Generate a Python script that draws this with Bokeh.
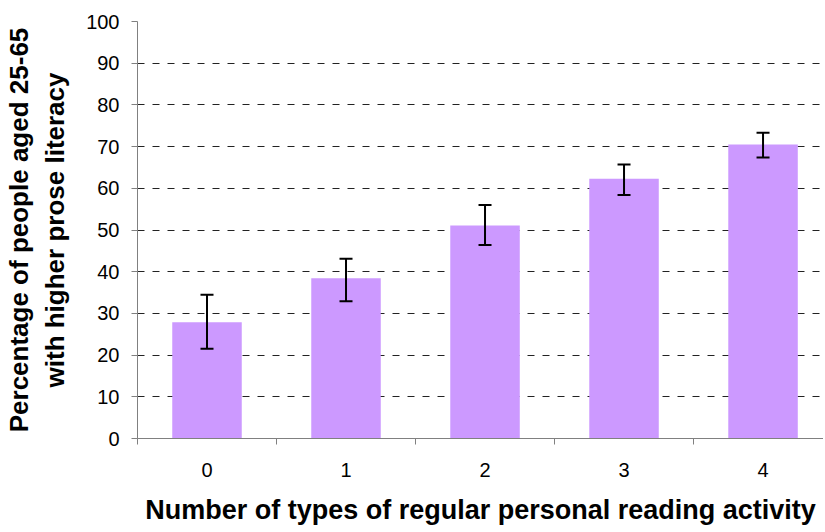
from bokeh.plotting import figure
from bokeh.models import Range1d, FixedTicker, Whisker, TeeHead, ColumnDataSource
from bokeh.embed import file_html
from bokeh.resources import INLINE

# Data
categories = [0, 1, 2, 3, 4]
values = [27.9, 38.4, 51.1, 62.3, 70.5]
err_upper = [34.5, 43.1, 56.0, 65.7, 73.3]
err_lower = [21.5, 32.9, 46.4, 58.4, 67.4]
y_ticks = [0, 10, 20, 30, 40, 50, 60, 70, 80, 90, 100]

FONT = "Liberation Sans"
AXIS_GRAY = "#808080"

source = ColumnDataSource(dict(x=categories, top=values, upper=err_upper, lower=err_lower))

p = figure(width=823, height=532, output_backend="svg", toolbar_location=None,
           x_range=Range1d(-0.5, 4.435), y_range=Range1d(0, 100),
           min_border_left=137, min_border_right=0, min_border_top=21, min_border_bottom=94)
p.outline_line_color = None
p.background_fill_color = "white"

p.vbar(x="x", top="top", width=0.5, source=source, fill_color="#CC99FF", line_color=None)

whisk = Whisker(base="x", upper="upper", lower="lower", source=source,
                line_width=2, line_color="black", level="overlay",
                upper_head=TeeHead(size=13, line_width=2, line_color="black"),
                lower_head=TeeHead(size=13, line_width=2, line_color="black"))
p.add_layout(whisk)

# grid
p.xgrid.grid_line_color = None
p.ygrid.ticker = FixedTicker(ticks=y_ticks[1:])
p.ygrid.grid_line_color = "#222222"
p.ygrid.grid_line_dash = "7 8"
p.ygrid.grid_line_width = 1

# y axis
p.yaxis.ticker = FixedTicker(ticks=y_ticks)
p.yaxis.axis_line_color = AXIS_GRAY
p.yaxis.major_tick_line_color = AXIS_GRAY
p.yaxis.major_tick_in = 0
p.yaxis.major_tick_out = 6
p.yaxis.minor_tick_line_color = None
p.yaxis.major_label_text_font = FONT
p.yaxis.major_label_text_font_size = "20px"
p.yaxis.major_label_text_color = "black"
p.yaxis.major_label_standoff = 12
p.yaxis.axis_label = "Percentage of people aged 25-65\nwith higher prose literacy"
p.yaxis.axis_label_text_font = FONT
p.yaxis.axis_label_text_font_style = "bold"
p.yaxis.axis_label_text_font_size = "26px"
p.yaxis.axis_label_text_color = "black"
p.yaxis.axis_label_standoff = 13

# x axis
p.xaxis.ticker = FixedTicker(ticks=categories, minor_ticks=[-0.5, 0.5, 1.5, 2.5, 3.5, 4.5])
p.xaxis.axis_line_color = AXIS_GRAY
p.xaxis.major_tick_line_color = None
p.xaxis.major_tick_in = 0
p.xaxis.major_tick_out = 6
p.xaxis.minor_tick_line_color = AXIS_GRAY
p.xaxis.minor_tick_in = 0
p.xaxis.minor_tick_out = 6
p.xaxis.major_label_text_font = FONT
p.xaxis.major_label_text_font_size = "20px"
p.xaxis.major_label_text_color = "black"
p.xaxis.major_label_standoff = 18
p.xaxis.axis_label = "Number of types of regular personal reading activity"
p.xaxis.axis_label_text_font = FONT
p.xaxis.axis_label_text_font_style = "bold"
p.xaxis.axis_label_text_font_size = "27px"
p.xaxis.axis_label_text_color = "black"
p.xaxis.axis_label_standoff = 15

open("out.html", "w").write(file_html(p, INLINE))
